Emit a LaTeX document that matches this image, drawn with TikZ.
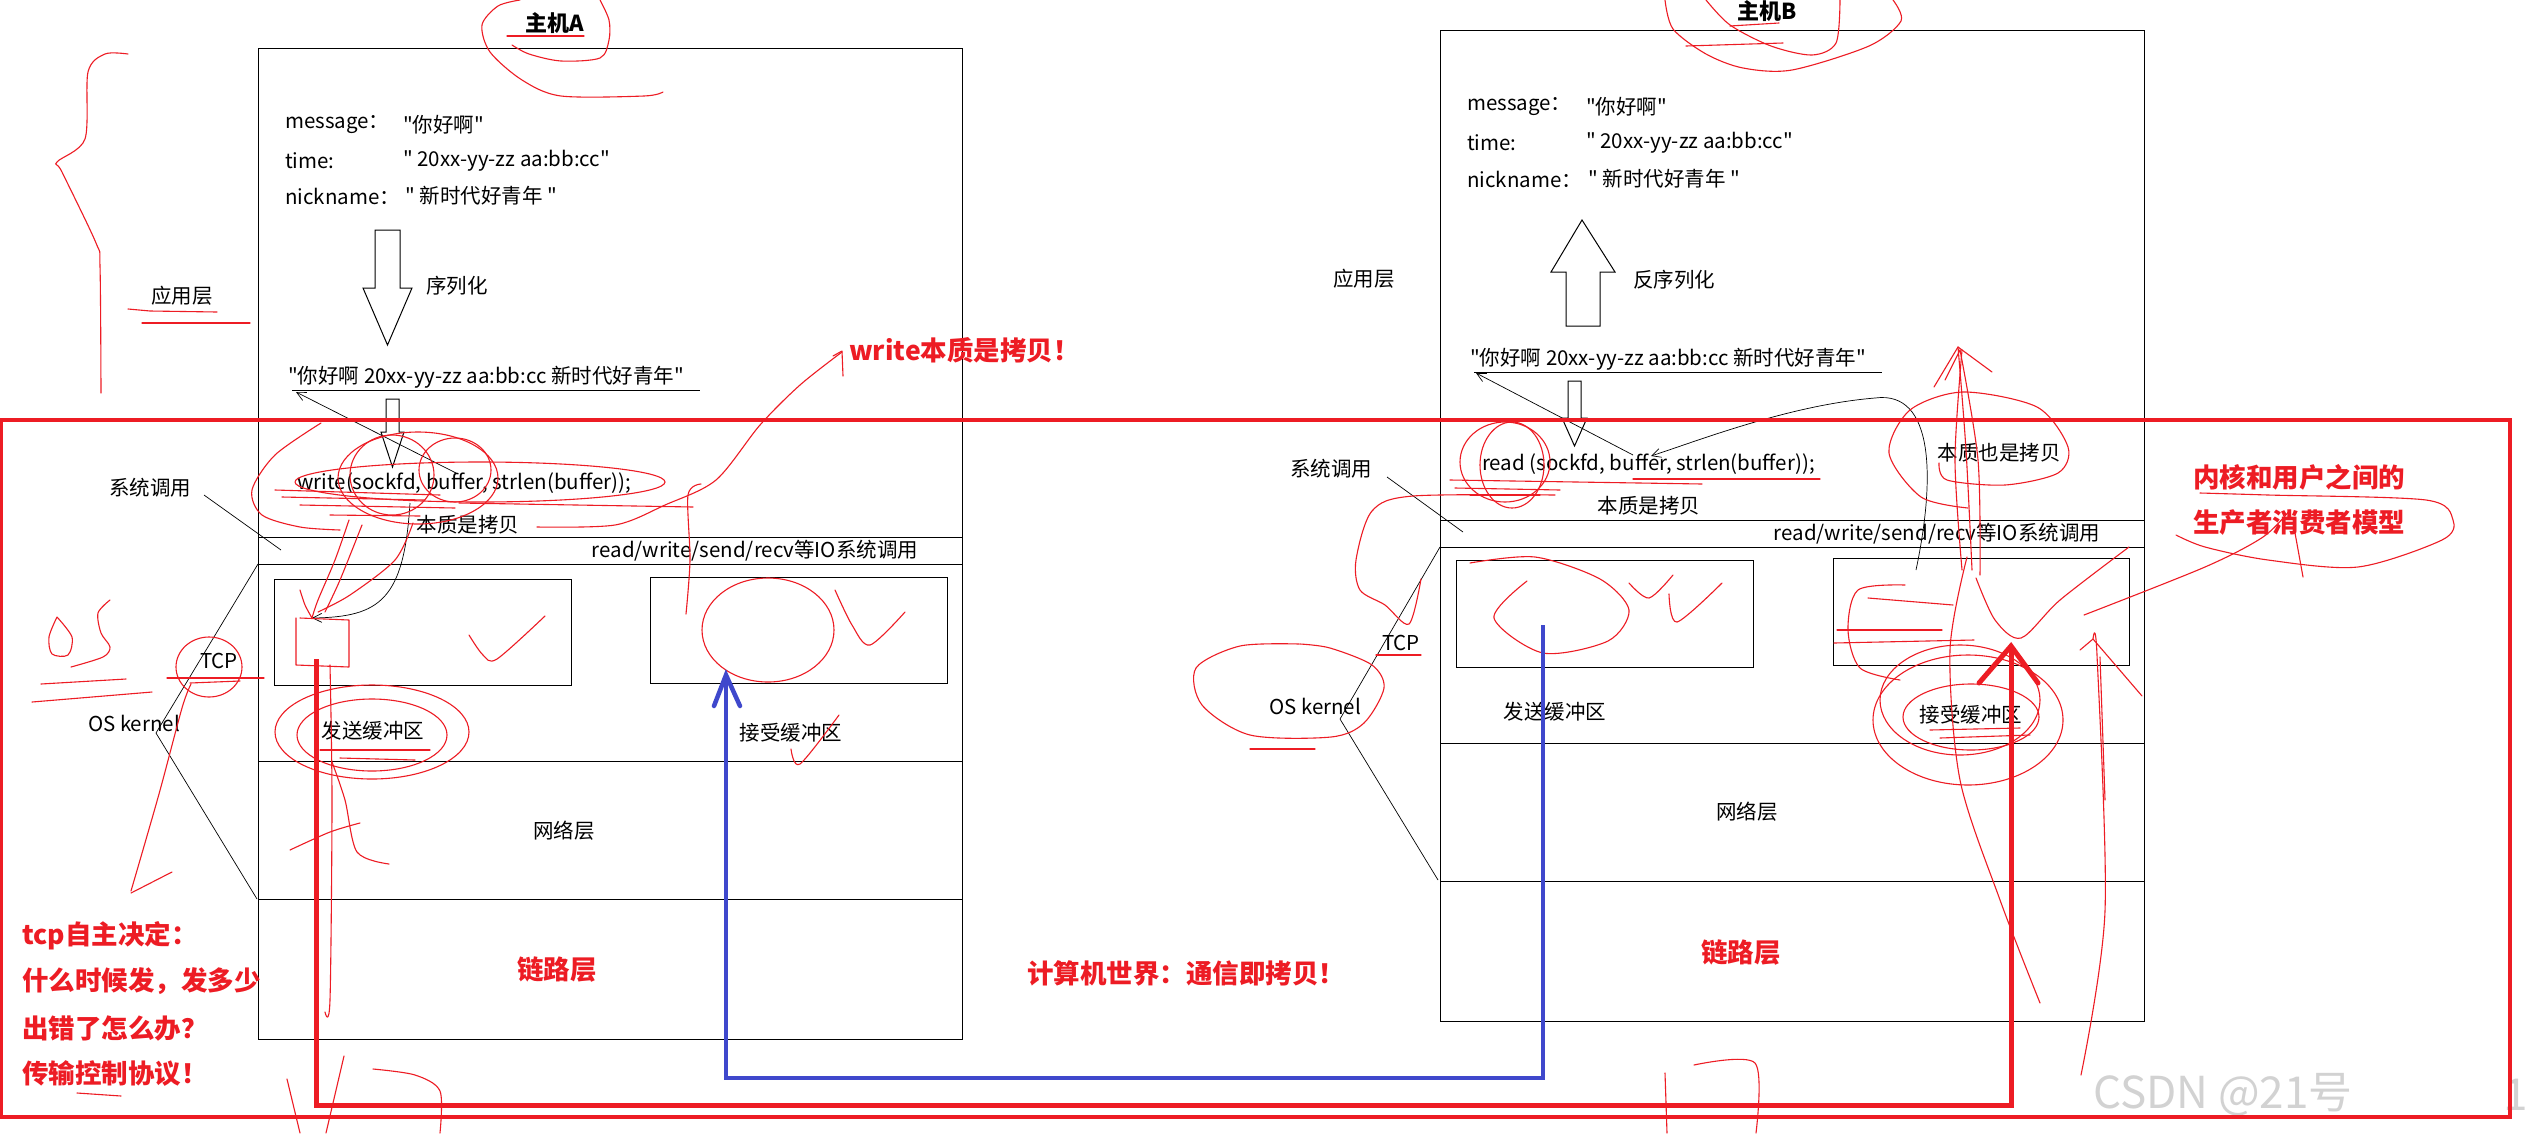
\documentclass[tikz,border=0pt]{standalone}
\usepackage{fontspec}
\setmainfont{Noto Sans CJK SC}[Ligatures=TeXOff]
\usetikzlibrary{arrows.meta}
\definecolor{pred}{RGB}{237,28,36}
\definecolor{pblue}{RGB}{63,72,204}
\begin{document}
\begin{tikzpicture}[x=1pt,y=-1pt,
  txt/.style={inner sep=0pt, font=\fontsize{20.5}{24}\selectfont},
  ttl/.style={inner sep=0pt, font=\fontsize{22}{26}\selectfont\bfseries},
  rtxt/.style={inner sep=0pt, text=pred, font=\fontsize{26.5}{30}\selectfont\bfseries},
  frame/.style={draw=black, line width=1pt},
  bufbox/.style={draw=black, line width=1pt, minimum width=297pt, minimum height=106pt, inner sep=0pt},
  hostbox/.style={draw=black, line width=1pt, minimum width=704pt, minimum height=991pt, inner sep=0pt},
  thinline/.style={draw=black, line width=0.7pt},
  thinarrow/.style={draw=black, line width=0.7pt, -{Straight Barb[length=9pt,width=9pt]}},
  blockarrow/.style={draw=black, line width=1pt, fill=white},
  scrib/.style={draw=pred, line width=1.1pt, line cap=round, line join=round},
  redpath/.style={draw=pred, line width=5pt, line join=miter},
  bluepath/.style={draw=pblue, line width=4.5pt, line join=miter},
  redframe/.style={draw=pred, line width=4pt},
]
\useasboundingbox (0,0) rectangle (2527,1133);
\fill[white] (0,0) rectangle (2527,1133);

%================ HOST A =================
\node[hostbox] (hostA) at (610,543.5) {};
\draw[frame] (258,537) -- (962,537);
\draw[frame] (258,564) -- (962,564);
\draw[frame] (258,761) -- (962,761);
\draw[frame] (258,899) -- (962,899);
\node[bufbox] (sendA) at (422.5,632) {};
\node[bufbox] (recvA) at (798.5,630) {};

\node[ttl] (titleA) at (555,23) {主机A};
\node[txt,anchor=west] (msgA) at (285,125) {message：};
\node[txt,anchor=west] (msgAv) at (403,125) {"你好啊"};
\node[txt,anchor=west] (timeA) at (285,161) {time:};
\node[txt,anchor=west] (timeAv) at (403,161) {" 20xx-yy-zz aa:bb:cc"};
\node[txt,anchor=west] (nickA) at (285,196) {nickname：};
\node[txt,anchor=west] (nickAv) at (405,196) {" 新时代好青年 "};
\node[txt] (serA) at (457,286) {序列化};
\node[txt] (appA) at (182,296) {应用层};
\node[txt,anchor=west] (strA) at (288,377) {"你好啊 20xx-yy-zz aa:bb:cc 新时代好青年"};
\draw[thinline] (292,390) -- (700,390);
\node[txt,anchor=west] (writeA) at (297,483) {write(sockfd, buffer, strlen(buffer));};
\node[txt] (sysA) at (150,488) {系统调用};
\node[txt] (copyA) at (468,525) {本质是拷贝};
\node[txt] (ioA) at (755,551) {read/write/send/recv等IO系统调用};
\node[txt] (tcpA) at (219,661) {TCP};
\node[txt] (osA) at (134,723) {OS kernel};
\node[txt] (sendAl) at (373,731) {发送缓冲区};
\node[txt] (recvAl) at (791,733) {接受缓冲区};
\node[txt] (netA) at (564,831) {网络层};
\node[rtxt] (linkA) at (557,970) {链路层};

% block arrows
\draw[blockarrow] (375,230) -- (400,230) -- (400,288) -- (412,288) -- (387.5,345) -- (363,288) -- (375,288) -- cycle;
\draw[blockarrow] (386,399) -- (399,399) -- (399,432) -- (404,432) -- (392.5,467) -- (381,432) -- (386,432) -- cycle;
% pointer lines
\coordinate (pA1) at (456,473); \coordinate (pA2) at (296,392);
\draw[thinarrow] (pA1) -- (pA2);
\coordinate (sA1) at (204,495); \coordinate (sA2) at (281,550);
\draw[thinline] (sA1) -- (sA2);
\coordinate (kA1) at (258,564); \coordinate (kA2) at (156,733); \coordinate (kA3) at (257,899);
\draw[thinline] (kA1) -- (kA2) -- (kA3);
\coordinate (cA1) at (410,503); \coordinate (cA2) at (312,618);
\draw[thinarrow] (cA1) .. controls (404,600) and (380,617) .. (cA2);

%================ HOST B =================
\node[hostbox] (hostB) at (1792,525.5) {};
\draw[frame] (1440,520) -- (2144,520);
\draw[frame] (1440,547) -- (2144,547);
\draw[frame] (1440,743) -- (2144,743);
\draw[frame] (1440,881) -- (2144,881);
\node[bufbox, minimum height=107pt] (sendB) at (1604.5,613.5) {};
\node[bufbox, minimum height=107pt, minimum width=296pt] (recvB) at (1981,611.5) {};

\node[ttl] (titleB) at (1767,11) {主机B};
\node[txt,anchor=west] (msgB) at (1467,107) {message：};
\node[txt,anchor=west] (msgBv) at (1586,107) {"你好啊"};
\node[txt,anchor=west] (timeB) at (1467,143) {time:};
\node[txt,anchor=west] (timeBv) at (1586,143) {" 20xx-yy-zz aa:bb:cc"};
\node[txt,anchor=west] (nickB) at (1467,179) {nickname：};
\node[txt,anchor=west] (nickBv) at (1588,179) {" 新时代好青年 "};
\node[txt] (deserB) at (1674,280) {反序列化};
\node[txt] (appB) at (1364,279) {应用层};
\node[txt,anchor=west] (strB) at (1470,359) {"你好啊 20xx-yy-zz aa:bb:cc 新时代好青年"};
\draw[thinline] (1474,372) -- (1882,372);
\node[txt,anchor=west] (readB) at (1482,464) {read (sockfd, buffer, strlen(buffer));};
\node[txt] (sysB) at (1331,469) {系统调用};
\node[txt] (copyB) at (1649,506) {本质是拷贝};
\node[txt] (copyB2) at (1999,453) {本质也是拷贝};
\node[txt] (ioB) at (1937,534) {read/write/send/recv等IO系统调用};
\node[txt] (tcpB) at (1401,643) {TCP};
\node[txt] (osB) at (1315,706) {OS kernel};
\node[txt] (sendBl) at (1555,712) {发送缓冲区};
\node[txt] (recvBl) at (1971,715) {接受缓冲区};
\node[txt] (netB) at (1747,812) {网络层};
\node[rtxt] (linkB) at (1741,953) {链路层};
\node[rtxt] (modelB1) at (2299,477) {内核和用户之间的};
\node[rtxt] (modelB2) at (2299,523) {生产者消费者模型};

\draw[blockarrow] (1582,220) -- (1615,272) -- (1600,272) -- (1600,326) -- (1566,326) -- (1566,272) -- (1551,272) -- cycle;
\draw[blockarrow] (1568,381) -- (1581,381) -- (1581,418) -- (1587,418) -- (1574.5,446) -- (1562,418) -- (1568,418) -- cycle;
\coordinate (pB1) at (1633,455); \coordinate (pB2) at (1476,373);
\draw[thinarrow] (pB1) -- (pB2);
\coordinate (sB1) at (1387,477); \coordinate (sB2) at (1463,532);
\draw[thinline] (sB1) -- (sB2);
\coordinate (kB1) at (1440,547); \coordinate (kB2) at (1340,719); \coordinate (kB3) at (1438,880);
\draw[thinline] (kB1) -- (kB2) -- (kB3);
\coordinate (cB1) at (1916,570); \coordinate (cB2) at (1651,456);
\draw[thinarrow] (cB1) .. controls (1935,480) and (1935,390) .. (1875,398) .. controls (1790,405) and (1700,440) .. (cB2);

%================ free texts =================
\node[rtxt,anchor=west] (writeNote) at (849,350) {write本质是拷贝！};
\node[rtxt,anchor=west] (tcp1) at (22,936) {tcp自主决定：};
\node[rtxt,anchor=west] (tcp2) at (22,981) {什么时候发，发多少};
\node[rtxt,anchor=west] (tcp3) at (22,1028) {出错了怎么办？};
\node[rtxt,anchor=west] (tcp4) at (22,1073) {传输控制协议！};
\node[rtxt] (world) at (1186,973) {计算机世界：通信即拷贝！};
\node[inner sep=0pt, text=gray!35, font=\fontsize{44}{48}\selectfont] (wm) at (2223,1095) {CSDN @21号};
\node[inner sep=0pt, text=gray!35, font=\fontsize{44}{48}\selectfont] (wm2) at (2516,1095) {1};

%================ red scribbles (host A) =================
\draw[scrib] plot[smooth] coordinates {(128,54) (105,54) (88,72) (85,139) (57,162) (62,172) (96,243) (100,266) (101,393)};
\draw[scrib] plot[smooth] coordinates {(663,92) (644,96) (561,96) (522,80) (490,52) (482,25) (498,6) (520,0)};
\draw[scrib] plot[smooth] coordinates {(600,0) (609,20) (609,40) (600,58) (561,61) (529,54) (512,45)};
\draw[scrib] (507,36) -- (584,36);
\draw[scrib] (128,309) -- (150,311) -- (217,312);
\draw[scrib] (142,323) -- (250,323);
\draw[scrib] plot[smooth] coordinates {(537,527) (615,525) (665,505) (716,480) (760,425) (800,385) (842,352)};
\draw[scrib] (833,356) -- (842,351) -- (843,376);
\draw[scrib] plot[smooth] coordinates {(701,484) (688,495) (690,560) (686,614)};
\draw[scrib] (480,482) ellipse [x radius=185pt, y radius=20pt];
\draw[scrib] (392,475) ellipse [x radius=42pt, y radius=40pt];
\draw[scrib] (455,470) ellipse [x radius=36pt, y radius=32pt];
\draw[scrib] (418,478) ellipse [x radius=80pt, y radius=46pt];
\draw[scrib] plot[smooth] coordinates {(321,423) (275,455) (252,490) (262,515) (300,527) (340,530)};
\draw[scrib] (275,490) -- (440,495);
\draw[scrib] (282,497) -- (425,500);
\draw[scrib] (300,505) -- (455,508);
\draw[scrib] (330,515) -- (420,516);
\draw[scrib] (459,503) -- (693,507);
\draw[scrib] plot[smooth] coordinates {(349,520) (335,560) (318,600) (312,618)};
\draw[scrib] plot[smooth] coordinates {(413,523) (395,560) (350,595) (318,612)};
\draw[scrib] plot[smooth] coordinates {(362,525) (340,580) (325,612)};
\draw[scrib] plot[smooth] coordinates {(300,590) (305,605) (312,618)};
\draw[scrib] (296,618) -- (296,665) -- (349,667) -- (349,620) -- (300,618);
\draw[scrib] plot[smooth] coordinates {(330,665) (332,800) (330,1000) (325,1012)};
\draw[scrib] (372,732) ellipse [x radius=97pt, y radius=47pt];
\draw[scrib] (372,735) ellipse [x radius=75pt, y radius=36pt];
\draw[scrib] (320,750) -- (430,750);
\draw[scrib] (340,758) -- (415,760);
\draw[scrib] plot[smooth] coordinates {(57,617) (72,637) (68,655) (52,654) (49,637) (57,617)};
\draw[scrib] plot[smooth] coordinates {(110,600) (98,613) (101,633) (110,647) (103,657) (71,667)};
\draw[scrib] (41,684) -- (126,679);
\draw[scrib] (32,702) -- (152,692);
\draw[scrib] (209,667) ellipse [x radius=33pt, y radius=30pt];
\draw[scrib] (167,678) -- (264,678);
\draw[scrib] (190,683) -- (240,681);
\draw[scrib] plot[smooth] coordinates {(191,684) (182,708) (159,794) (131,891)};
\draw[scrib] (131,893) -- (172,872);
\draw[scrib] (768,630) ellipse [x radius=66pt, y radius=52pt];
\draw[scrib] plot[smooth] coordinates {(835,590) (852,625) (870,645) (905,612)};
\draw[scrib] plot[smooth] coordinates {(469,635) (483,655) (497,659) (545,616)};
\draw[scrib] plot[smooth] coordinates {(791,749) (800,764) (839,715)};
\draw[scrib] plot[smooth] coordinates {(332,762) (345,800) (357,852) (389,864)};
\draw[scrib] plot[smooth] coordinates {(290,850) (330,832) (360,823)};
\draw[scrib] (287,1079) -- (300,1133);
\draw[scrib] (344,1056) -- (326,1133);
\draw[scrib] plot[smooth] coordinates {(373,1069) (415,1075) (440,1091) (440,1133)};
\draw[scrib] (77,1093) -- (121,1096);

%================ red scribbles (host B) =================
\draw[scrib] plot[smooth] coordinates {(1665,0) (1673,29) (1706,54) (1743,68) (1792,70) (1869,46) (1901,21) (1893,0)};
\draw[scrib] plot[smooth] coordinates {(1706,0) (1730,25) (1771,46) (1812,55) (1836,43) (1840,0)};
\draw[scrib] (1730,26) -- (1779,23);
\draw[scrib] (1686,46) -- (1783,43);
\draw[scrib] (1505,462) ellipse [x radius=45pt, y radius=40pt];
\draw[scrib] (1512,465) ellipse [x radius=32pt, y radius=43pt];
\draw[scrib] (1450,480) -- (1702,484);
\draw[scrib] (1633,479) -- (1820,479);
\draw[scrib] (1455,488) -- (1560,490);
\draw[scrib] (1470,495) -- (1540,495);
\draw[scrib] plot[smooth] coordinates {(1555,495) (1413,496) (1372,511) (1356,560) (1360,590) (1385,605) (1409,624) (1421,579)};
\draw[scrib] plot[smooth] coordinates {(1299,644) (1240,646) (1196,668) (1202,705) (1250,735) (1331,737) (1364,723) (1384,688) (1372,665) (1330,648) (1300,644)};
\draw[scrib] (1250,749) -- (1315,749);
\draw[scrib] (1376,655) -- (1421,655);
\draw[scrib] plot[smooth] coordinates {(1527,581) (1494,618) (1543,653) (1608,641) (1629,610) (1600,579) (1535,557) (1470,563)};
\draw[scrib] plot[smooth] coordinates {(1629,583) (1649,598) (1673,575)};
\draw[scrib] plot[smooth] coordinates {(1669,594) (1677,622) (1722,583)};
\draw[scrib] plot[smooth] coordinates {(1976,578) (1995,620) (2021,638) (2060,600) (2129,547)};
\draw[scrib] plot[smooth] coordinates {(2084,615) (2205,567) (2263,537) (2290,510)};
\draw[scrib] plot[smooth] coordinates {(2200,493) (2268,495) (2426,500) (2453,520) (2442,540) (2358,567) (2268,560) (2205,547) (2176,535)};
\draw[scrib] (2295,533) -- (2303,577);
\draw[scrib] (1971,717) ellipse [x radius=68pt, y radius=33pt];
\draw[scrib] (1968,720) ellipse [x radius=95pt, y radius=65pt];
\draw[scrib] (1960,700) ellipse [x radius=80pt, y radius=55pt];
\draw[scrib] (1837,630) -- (1942,630);
\draw[scrib] (1868,598) -- (1953,605);
\draw[scrib] (1834,643) -- (1974,640);
\draw[scrib] plot[smooth] coordinates {(1905,585) (1858,590) (1848,630) (1860,668) (1900,680)};
\draw[scrib] (1930,730) -- (2020,728);
\draw[scrib] (1940,738) -- (2030,735);
\draw[scrib] plot[smooth] coordinates {(1958,347) (1966,450) (1972,570)};
\draw[scrib] plot[smooth] coordinates {(1962,350) (1955,460) (1962,570)};
\draw[scrib] plot[smooth] coordinates {(1960,350) (1978,460) (1980,575)};
\draw[scrib] (1934,387) -- (1958,347) -- (1992,372);
\draw[scrib] (1945,380) -- (1960,350);
\draw[scrib] plot[smooth] coordinates {(1967,557) (1950,650) (1960,780) (2000,900) (2040,1003)};
\draw[scrib] plot[smooth] coordinates {(1968,508) (1921,497) (1889,453) (1910,410) (1963,392) (2037,407) (2068,447) (2058,473) (2005,485) (1947,480) (1939,463)};
\draw[scrib] plot[smooth] coordinates {(2093,639) (2097,655) (2105,911) (2081,1075)};
\draw[scrib] (2093,639) -- (2142,696);
\draw[scrib] (2100,657) -- (2105,800);
\draw[scrib] (2080,650) -- (2093,639);
\draw[scrib] (1665,1073) -- (1667,1133);
\draw[scrib] plot[smooth] coordinates {(1694,1065) (1755,1063) (1756,1133)};

%================ thick paths =================
\coordinate (rA) at (316,659);
\coordinate (rB) at (2011,650);
\coordinate (rbot) at (0,1105);
\draw[redpath] (rA) |- (rbot -| rB) -- (rB);
\coordinate (rBl) at (1979,683); \coordinate (rBt) at (2011,646); \coordinate (rBr) at (2038,683);
\draw[redpath, line cap=round] (rBl) -- (rBt) -- (rBr);

\coordinate (bS) at (1543,625);
\coordinate (bT) at (726,679);
\coordinate (bbot) at (0,1078);
\draw[bluepath] (bS) |- (bbot -| bT) -- (bT);
\coordinate (bTl) at (714,706); \coordinate (bTt) at (726,675); \coordinate (bTr) at (740,706);
\draw[bluepath, line cap=round] (bTl) -- (bTt) -- (bTr);

\draw[redframe] (1,420) rectangle (2510,1117);
\end{tikzpicture}
\end{document}
